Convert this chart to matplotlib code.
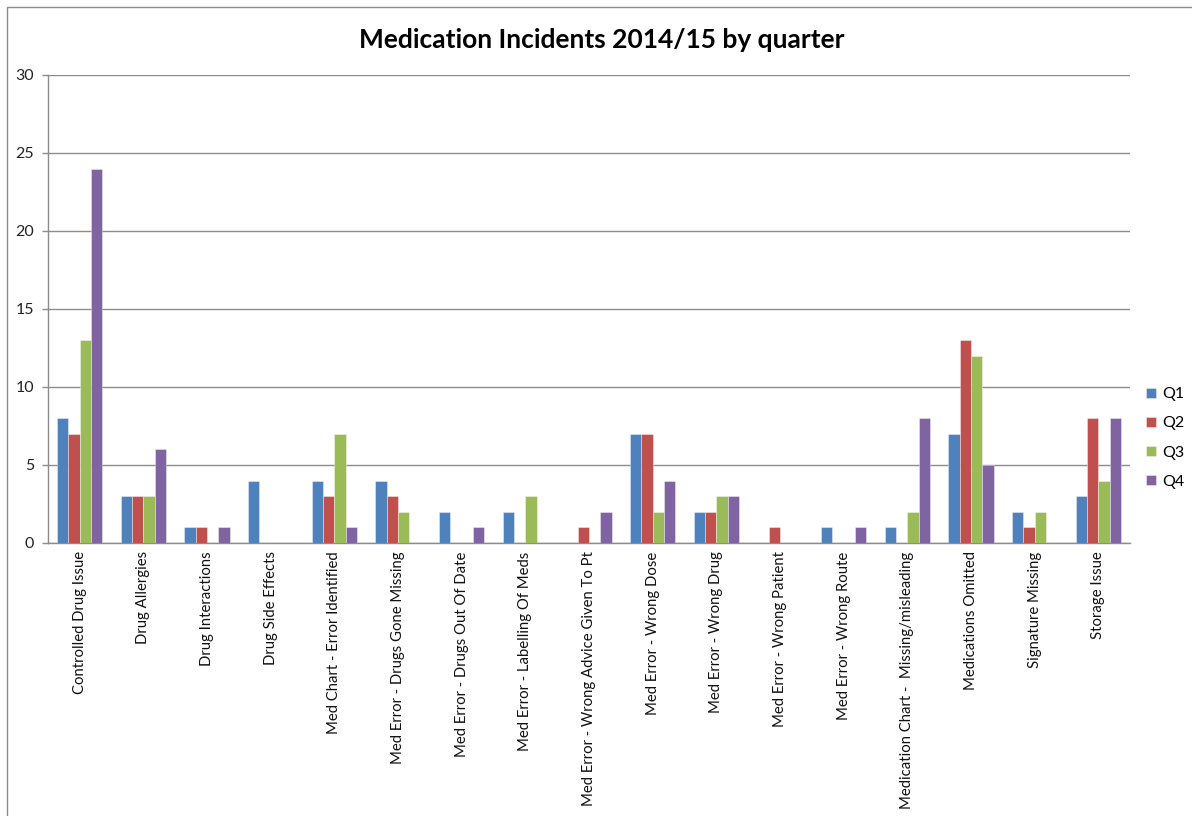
import matplotlib
matplotlib.use("Agg")
import matplotlib.pyplot as plt
import numpy as np
from matplotlib.patches import Rectangle

categories = [
    "Controlled Drug Issue",
    "Drug Allergies",
    "Drug Interactions",
    "Drug Side Effects",
    "Med Chart - Error Identified",
    "Med Error - Drugs Gone Missing",
    "Med Error - Drugs Out Of Date",
    "Med Error - Labelling Of Meds",
    "Med Error - Wrong Advice Given To Pt",
    "Med Error - Wrong Dose",
    "Med Error - Wrong Drug",
    "Med Error - Wrong Patient",
    "Med Error - Wrong Route",
    "Medication Chart -  Missing/misleading",
    "Medications Omitted",
    "Signature Missing",
    "Storage Issue",
]

q1 = [8, 3, 1, 4, 4, 4, 2, 2, 0, 7, 2, 0, 1, 1, 7, 2, 3]
q2 = [7, 3, 1, 0, 3, 3, 0, 0, 1, 7, 2, 1, 0, 0, 13, 1, 8]
q3 = [13, 3, 0, 0, 7, 2, 0, 3, 0, 2, 3, 0, 0, 2, 12, 2, 4]
q4 = [24, 6, 1, 0, 1, 0, 1, 0, 2, 4, 3, 0, 1, 8, 5, 0, 8]

series_names = ["Q1", "Q2", "Q3", "Q4"]
series_values = [q1, q2, q3, q4]
series_colors = ["#4F81BD", "#C0504D", "#9BBB59", "#8064A2"]

y_ticks = [0, 5, 10, 15, 20, 25, 30]

plt.rcParams["font.family"] = ["Lato", "DejaVu Sans"]

W, H = 1192, 816
fig = plt.figure(figsize=(W / 100, H / 100), dpi=100)

# outer chart frame (left and top edges visible)
fig.patches.append(Rectangle((7 / W, -0.1), 1.2, 1 - 7 / H + 0.1,
                             transform=fig.transFigure, fill=False,
                             edgecolor="#8c8c8c", linewidth=1.0))

left, right, top, bottom = 48, 1130, 75, 543
ax = fig.add_axes([left / W, 1 - bottom / H, (right - left) / W, (bottom - top) / H])

x = np.arange(len(categories))
bw = 0.178
offsets = (np.arange(4) - 1.5) * bw
for name, vals, col, off in zip(series_names, series_values, series_colors, offsets):
    ax.bar(x + off, vals, width=bw, color=col, label=name,
           edgecolor=(1, 1, 1, 0.45), linewidth=0.6, zorder=3)

ax.set_xlim(-0.5, len(categories) - 0.5)
ax.set_ylim(0, 30)
ax.set_yticks(y_ticks)
ax.set_yticklabels([str(v) for v in y_ticks], fontsize=11.5, color="#222222")
ax.set_xticks(x)
ax.set_xticklabels(categories, rotation=90, fontsize=10.7, color="#111111",
                   ha="center", va="top")
ax.tick_params(axis="x", length=0, pad=6)
ax.tick_params(axis="y", length=4, width=1, color="#8c8c8c", pad=6)

ax.grid(axis="y", color="#8c8c8c", linewidth=1.0, zorder=0)
ax.set_axisbelow(True)
for s in ["top", "right"]:
    ax.spines[s].set_visible(False)
for s in ["left", "bottom"]:
    ax.spines[s].set_color("#8c8c8c")
    ax.spines[s].set_linewidth(1.0)

fig.text(602 / W, 1 - 40 / H, "Medication Incidents 2014/15 by quarter",
         ha="center", va="center", fontsize=19, fontweight="bold", color="#000000")

leg = ax.legend(loc="center left", bbox_to_anchor=(1138 / W, 1 - 438 / H),
                bbox_transform=fig.transFigure, frameon=False, fontsize=11.5,
                handlelength=0.6, handleheight=0.6, handletextpad=0.4,
                labelspacing=0.95, borderpad=0)

fig.savefig("out.png", dpi=100, facecolor="white")
